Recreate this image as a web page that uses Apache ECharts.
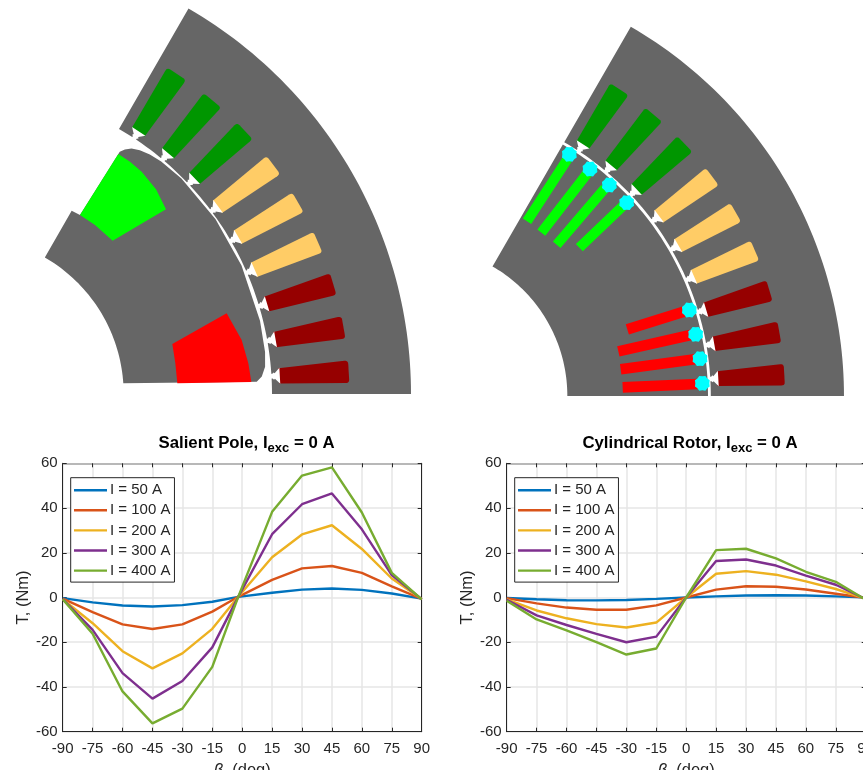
<!DOCTYPE html>
<html>
<head>
<meta charset="utf-8">
<style>html,body{margin:0;padding:0;background:#fff;overflow:hidden}#c{width:863px;height:770px}</style>
<script src="https://cdn.jsdelivr.net/npm/echarts@6/dist/echarts.min.js"></script>
</head>
<body>
<div id="c"></div>
<script>
// ---- chart data ----
const seriesNames = ['I = 50 A', 'I = 100 A', 'I = 200 A', 'I = 300 A', 'I = 400 A'];
const betaSalient = [-90, -75, -60, -45, -30, -15, -2, 15, 30, 45, 60, 75, 90];
const betaCylindrical = [-90, -75, -60, -45, -30, -15, 0, 15, 30, 45, 60, 75, 90];

const salient50 = [-0.3, -2.2, -3.6, -4.0, -3.4, -1.9, 0.3, 2.1, 3.5, 4.0, 3.4, 1.8, -0.5];
const salient100 = [-0.5, -6.5, -12, -14.1, -12, -6.3, 0.3, 7.9, 13, 14.1, 11, 5, -0.6];
const salient200 = [-0.7, -11.5, -24, -31.7, -25, -14, 0.3, 18, 28.2, 32.3, 21.7, 8.5, -0.7];
const salient300 = [-0.7, -14.5, -33.8, -45.2, -37.3, -22.3, 0.3, 28.3, 41.7, 46.5, 30.5, 10, -0.7];
const salient400 = [-0.8, -16.2, -42, -56.3, -49.7, -31, 0.3, 38.3, 54.5, 58.2, 38, 11, -0.8];

const cyl50 = [-0.2, -0.8, -1.2, -1.3, -1.1, -0.6, 0, 0.5, 0.9, 1.0, 0.9, 0.5, 0];
const cyl100 = [-0.3, -2.6, -4.5, -5.5, -5.5, -3.5, 0, 3.5, 5, 4.8, 3.6, 1.7, -0.2];
const cyl200 = [-0.8, -5.8, -9.3, -11.9, -13.4, -11.2, 0, 10.6, 11.8, 10.2, 7.2, 3.8, -0.5];
const cyl300 = [-1, -8, -12.3, -16.3, -20, -17.5, 0, 16.3, 17, 14.3, 9.8, 5.7, -0.7];
const cyl400 = [-1.5, -9.8, -14.7, -20, -25.5, -22.8, 0, 21.2, 21.8, 17.5, 11.5, 7, -1];

const salientAll = [salient50, salient100, salient200, salient300, salient400];
const cylAll = [cyl50, cyl100, cyl200, cyl300, cyl400];
const lineColors = ['#0072BD', '#D95319', '#EDB120', '#7E2F8E', '#77AC30'];

// ---- machine cross-section illustration (decorative geometry) ----
const GRAY = '#666666', WHITE = '#ffffff';
const slotColors = ['#009600', '#009600', '#009600', '#FFCC66', '#FFCC66', '#FFCC66', '#960000', '#960000', '#960000'];

function polar(c, r, deg) {
  const a = deg * Math.PI / 180;
  return [c[0] + r * Math.cos(a), c[1] - r * Math.sin(a)];
}
function arc(c, r, a0, a1, n) {
  const out = [];
  for (let i = 0; i <= n; i++) out.push(polar(c, r, a0 + (a1 - a0) * i / n));
  return out;
}
function local(c, deg, r, t) {
  const a = deg * Math.PI / 180;
  return [c[0] + r * Math.cos(a) - t * Math.sin(a), c[1] - r * Math.sin(a) - t * Math.cos(a)];
}
function poly(points, fill) {
  return { type: 'polygon', silent: true, shape: { points }, style: { fill, stroke: null } };
}
function rounded(p0, p1, p2, rad) {
  const u = (a, b) => { const d = Math.hypot(b[0] - a[0], b[1] - a[1]); return [(b[0] - a[0]) / d, (b[1] - a[1]) / d]; };
  const a = u(p1, p0), b = u(p1, p2);
  const s = [p1[0] + a[0] * rad, p1[1] + a[1] * rad], e = [p1[0] + b[0] * rad, p1[1] + b[1] * rad];
  const out = [];
  for (let i = 0; i <= 5; i++) {
    const k = i / 5;
    out.push([(1 - k) * (1 - k) * s[0] + 2 * k * (1 - k) * p1[0] + k * k * e[0],
              (1 - k) * (1 - k) * s[1] + 2 * k * (1 - k) * p1[1] + k * k * e[1]]);
  }
  return out;
}
function slot(c, deg, k, fill) {
  const b1 = local(c, deg, 940 * k, 23 * k), b2 = local(c, deg, 940 * k, -23 * k);
  const t1 = local(c, deg, 1150 * k, 34 * k), t2 = local(c, deg, 1150 * k, -34 * k);
  return poly([b1].concat(rounded(b1, t1, t2, 11 * k), rounded(t1, t2, b2, 11 * k), [b2]), fill);
}
function notch(c, deg, k) {
  const prof = [[912, 7], [921, 7], [925, 11], [928, 8], [943, 24]];
  const pts = [];
  prof.forEach(p => pts.push(local(c, deg, p[0] * k, p[1] * k)));
  prof.slice().reverse().forEach(p => pts.push(local(c, deg, p[0] * k, -p[1] * k)));
  return poly(pts, WHITE);
}
function stator(c, k) {
  const R = 1335 * k, r = 918 * k;
  const ch = [poly(arc(c, R, 0, 60, 60).concat(arc(c, r, 60, 0, 60)), GRAY)];
  for (let i = 0; i < 9; i++) {
    const deg = 60 - (i + 0.5) * 60 / 9;
    ch.push(slot(c, deg, k, slotColors[i]));
    ch.push(notch(c, deg, k));
  }
  return ch;
}
function strip(a, b, hw, fill) {
  const d = Math.hypot(b[0] - a[0], b[1] - a[1]);
  const nx = -(b[1] - a[1]) / d * hw, ny = (b[0] - a[0]) / d * hw;
  return poly([[a[0] + nx, a[1] + ny], [b[0] + nx, b[1] + ny], [b[0] - nx, b[1] - ny], [a[0] - nx, a[1] - ny]], fill);
}
function blob(p) {
  const pts = [];
  for (let i = 0; i < 16; i++) {
    const r = i % 2 ? 24 : 21, a = i * Math.PI / 8;
    pts.push([p[0] + r * Math.cos(a), p[1] + r * Math.sin(a)]);
  }
  return poly(pts, '#00FFFF');
}

// left: salient-pole rotor
const cL = [-192, 1182];
const poleProfile = [[2.4, 873], [3.4, 889], [5.2, 901], [8, 906], [14, 909], [25, 912], [35, 914], [45, 914], [50, 911], [52.5, 906], [54.5, 898], [56, 888], [57, 875], [57.6, 861]];
const rotorL = poleProfile.map(p => polar(cL, p[1], p[0]))
  .concat([[265, 462], [150, 645], [125, 632]], arc(cL, 473, 60, 3.9, 40));
const leftMachine = {
  type: 'group', x: 30, y: 0, scaleX: 1 / 3, scaleY: 1 / 3, silent: true,
  children: stator(cL, 1).concat([
    poly(rotorL, GRAY),
    poly([[265, 462], [300, 485], [335, 515], [378, 568], [408, 628], [248, 722], [195, 675], [150, 645]], '#00FF00'),
    poly([[427, 1032], [590, 940], [635, 1020], [655, 1090], [664, 1146], [442, 1150], [436, 1090]], '#FF0000')
  ])
};

// right: cylindrical rotor with flux barriers
const cR = [-187, 1158], kR = 0.958;
const magnetGreen = [[[262, 448], [141, 634]], [[322, 490], [184, 668]], [[375, 535], [230, 704]], [[430, 587], [298, 713]]];
const magnetRed = [[[612, 905], [442, 958]], [[632, 975], [415, 1024]], [[645, 1048], [422, 1078]], [[652, 1122], [428, 1132]]];
const magnetTips = [[268, 433], [330, 477], [388, 525], [440, 578], [628, 900], [647, 973], [660, 1046], [667, 1120]];
const rightMachine = {
  type: 'group', x: 480, y: 10, scaleX: 1 / 3, scaleY: 1 / 3, silent: true,
  children: stator(cR, kR).concat([
    poly(arc(cR, 871, 0, 60, 60).concat(arc(cR, 449, 60, 0, 50)), GRAY)
  ], magnetGreen.map(m => strip(m[0], m[1], 15, '#00FF00')),
     magnetRed.map(m => strip(m[0], m[1], 16, '#FF0000')),
     magnetTips.map(blob))
};

// ---- chart layout helpers ----
const INK = '#262626', FONT = '"Liberation Sans", Arial, sans-serif';
const grids = [
  { left: 62.7, top: 463.3, width: 359, height: 268.4 },
  { left: 506.7, top: 463.3, width: 359, height: 268.4 }
];
function xAxes(g) {
  return [{
    type: 'value', gridIndex: g, min: -90, max: 90, interval: 15, position: 'bottom',
    name: '{b|β,} (deg)', nameLocation: 'middle', nameGap: 30,
    nameTextStyle: { color: INK, fontSize: 16.5, fontFamily: FONT, rich: { b: { fontStyle: 'italic', fontSize: 16.5, color: INK, fontFamily: FONT } } },
    axisLine: { show: true, onZero: false, lineStyle: { color: INK, width: 1 } },
    axisTick: { show: true, inside: true, length: 4, lineStyle: { color: INK } },
    axisLabel: { color: INK, fontSize: 15, fontFamily: FONT, margin: 10, hideOverlap: false, showMinLabel: true, showMaxLabel: true },
    splitLine: { show: true, lineStyle: { color: '#e6e6e6', width: 1.5 } }
  }, {
    type: 'value', gridIndex: g, min: -90, max: 90, interval: 15, position: 'top',
    axisLine: { show: true, onZero: false, lineStyle: { color: '#a6a6a6', width: 1.5 } },
    axisTick: { show: true, inside: true, length: 4, lineStyle: { color: INK } },
    axisLabel: { show: false }, splitLine: { show: false }
  }];
}
function yAxes(g) {
  return [{
    type: 'value', gridIndex: g, min: -60, max: 60, interval: 20, position: 'left',
    name: 'T, (Nm)', nameLocation: 'middle', nameGap: 31,
    nameTextStyle: { color: INK, fontSize: 16.5, fontFamily: FONT },
    axisLine: { show: true, onZero: false, lineStyle: { color: INK, width: 1 } },
    axisTick: { show: true, inside: true, length: 4, lineStyle: { color: INK } },
    axisLabel: { color: INK, fontSize: 15, fontFamily: FONT, margin: 5, showMinLabel: true, showMaxLabel: true },
    splitLine: { show: true, lineStyle: { color: '#e6e6e6', width: 1.5 } }
  }, {
    type: 'value', gridIndex: g, min: -60, max: 60, interval: 20, position: 'right',
    axisLine: { show: true, onZero: false, lineStyle: { color: INK, width: 1 } },
    axisTick: { show: true, inside: true, length: 4, lineStyle: { color: INK } },
    axisLabel: { show: false }, splitLine: { show: false }
  }];
}
function makeSeries(xs, table, g) {
  return table.map((vals, i) => ({
    type: 'line', name: seriesNames[i], xAxisIndex: g * 2, yAxisIndex: g * 2,
    data: vals.map((v, j) => [xs[j], v]),
    showSymbol: false, symbol: 'none', smooth: false, z: 3 + i,
    lineStyle: { color: lineColors[i], width: 2.4 }, itemStyle: { color: lineColors[i] }
  }));
}
function legend(left) {
  return {
    left, top: 477.7, orient: 'vertical', data: seriesNames, selectedMode: false,
    icon: 'rect', itemWidth: 33, itemHeight: 2.4, itemGap: 5.1, padding: [5, 4, 4, 3.3],
    backgroundColor: '#ffffff', borderColor: INK, borderWidth: 1, borderRadius: 0,
    textStyle: { color: INK, fontSize: 15, fontFamily: FONT, lineHeight: 14, padding: [0, 0, 0, -2] }, z: 20
  };
}
function title(center, main) {
  return {
    left: center, top: 426, textAlign: 'center',
    text: '{a|' + main + ', I}{s|exc}{a| = 0 A}',
    textStyle: {
      rich: {
        a: { fontFamily: FONT, fontSize: 16.8, fontWeight: 'bold', color: '#000' },
        s: { fontFamily: FONT, fontSize: 13, fontWeight: 'bold', color: '#000', padding: [11, 0, 0, 0] }
      }
    }
  };
}

const chart = echarts.init(document.getElementById('c'), null, { renderer: 'canvas' });
chart.setOption({
  animation: false,
  backgroundColor: '#ffffff',
  title: [title(241.5, 'Salient Pole'), title(685, 'Cylindrical Rotor')],
  legend: [legend(70.7), legend(514.7)],
  grid: grids.map(g => Object.assign({ containLabel: false, outerBoundsMode: 'none' }, g)),
  xAxis: xAxes(0).concat(xAxes(1)),
  yAxis: yAxes(0).concat(yAxes(1)),
  series: makeSeries(betaSalient, salientAll, 0).concat(makeSeries(betaCylindrical, cylAll, 1)),
  graphic: [leftMachine, rightMachine]
});
</script>
</body>
</html>
